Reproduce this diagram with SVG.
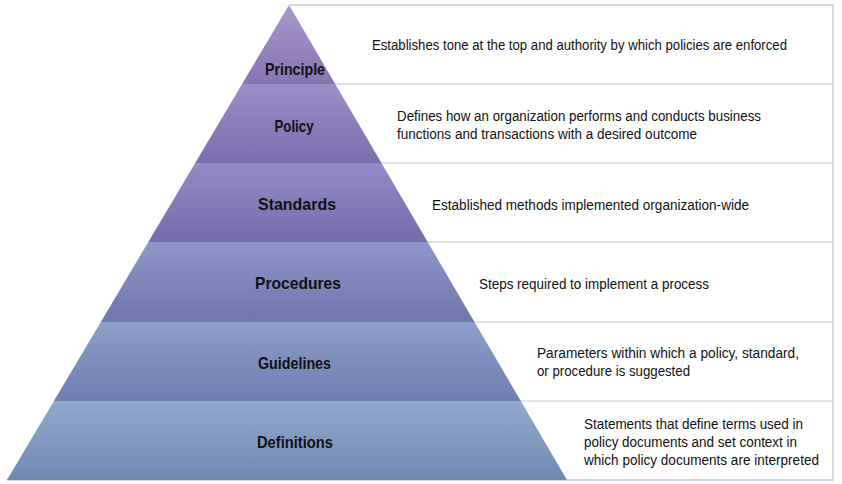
<svg xmlns="http://www.w3.org/2000/svg" width="842" height="484" viewBox="0 0 842 484">
  <style>
    .label { font-family: "Liberation Sans", Arial, sans-serif; font-weight: bold; font-size: 16.5px; fill: #111111; text-anchor: middle; }
    .desc { font-family: "Liberation Sans", Arial, sans-serif; font-size: 14px; fill: #111111; }
    .row { stroke: #dadae2; stroke-width: 1.6; fill: none; }
    .frame { stroke: #c9c9d8; stroke-width: 1.4; fill: none; }
  </style>
  <defs>
    <linearGradient id="gPrinciple" x1="0" y1="0" x2="0" y2="1">
      <stop offset="0" stop-color="#a898cb"/>
      <stop offset="1" stop-color="#8874b2"/>
    </linearGradient>
    <linearGradient id="gPolicy" x1="0" y1="0" x2="0" y2="1">
      <stop offset="0" stop-color="#9c8ec7"/>
      <stop offset="1" stop-color="#7c6dad"/>
    </linearGradient>
    <linearGradient id="gStandards" x1="0" y1="0" x2="0" y2="1">
      <stop offset="0" stop-color="#938cc6"/>
      <stop offset="1" stop-color="#736ca9"/>
    </linearGradient>
    <linearGradient id="gProcedures" x1="0" y1="0" x2="0" y2="1">
      <stop offset="0" stop-color="#8f96c9"/>
      <stop offset="1" stop-color="#6f76ab"/>
    </linearGradient>
    <linearGradient id="gGuidelines" x1="0" y1="0" x2="0" y2="1">
      <stop offset="0" stop-color="#8e9fca"/>
      <stop offset="1" stop-color="#6e7eae"/>
    </linearGradient>
    <linearGradient id="gDefinitions" x1="0" y1="0" x2="0" y2="1">
      <stop offset="0" stop-color="#92a9ca"/>
      <stop offset="1" stop-color="#7089b2"/>
    </linearGradient>
  </defs>

  <rect width="842" height="484" fill="#ffffff"/>

  <!-- table rules to the right of the pyramid -->
  <g id="connectors">
    <path class="frame" d="M289,5 H833 V480 H7"/>
    <line class="row" x1="335" y1="84" x2="833" y2="84"/>
    <line class="row" x1="381" y1="163" x2="833" y2="163"/>
    <line class="row" x1="427" y1="242" x2="833" y2="242"/>
    <line class="row" x1="474" y1="322" x2="833" y2="322"/>
    <line class="row" x1="520" y1="401" x2="833" y2="401"/>
  </g>

  <g id="principle">
    <polygon points="289,5 335.2,84 242.1,84" fill="url(#gPrinciple)"/>
    <text class="label" x="295" y="75" textLength="60" lengthAdjust="spacingAndGlyphs">Principle</text>
    <text class="desc" x="372" y="50" textLength="415" lengthAdjust="spacingAndGlyphs">Establishes tone at the top and authority by which policies are enforced</text>
  </g>

  <g id="policy">
    <polygon points="242.1,84 335.2,84 381.5,163 195.2,163" fill="url(#gPolicy)"/>
    <text class="label" x="294" y="132" textLength="39" lengthAdjust="spacingAndGlyphs">Policy</text>
    <text class="desc" x="397" y="121" textLength="364" lengthAdjust="spacingAndGlyphs">Defines how an organization performs and conducts business</text>
    <text class="desc" x="397" y="139" textLength="300" lengthAdjust="spacingAndGlyphs">functions and transactions with a desired outcome</text>
  </g>

  <g id="standards">
    <polygon points="195.2,163 381.5,163 427.7,242 148.3,242" fill="url(#gStandards)"/>
    <text class="label" x="297" y="210" textLength="78" lengthAdjust="spacingAndGlyphs">Standards</text>
    <text class="desc" x="432" y="210" textLength="317" lengthAdjust="spacingAndGlyphs">Established methods implemented organization-wide</text>
  </g>

  <g id="procedures">
    <polygon points="148.3,242 427.7,242 474.5,322 100.8,322" fill="url(#gProcedures)"/>
    <text class="label" x="298" y="289" textLength="86" lengthAdjust="spacingAndGlyphs">Procedures</text>
    <text class="desc" x="479" y="289" textLength="230" lengthAdjust="spacingAndGlyphs">Steps required to implement a process</text>
  </g>

  <g id="guidelines">
    <polygon points="100.8,322 474.5,322 520.8,401 53.9,401" fill="url(#gGuidelines)"/>
    <text class="label" x="294.5" y="369" textLength="73" lengthAdjust="spacingAndGlyphs">Guidelines</text>
    <text class="desc" x="537" y="358" textLength="262" lengthAdjust="spacingAndGlyphs">Parameters within which a policy, standard,</text>
    <text class="desc" x="537" y="376" textLength="153" lengthAdjust="spacingAndGlyphs">or procedure is suggested</text>
  </g>

  <g id="definitions">
    <polygon points="53.9,401 520.8,401 567,480 7,480" fill="url(#gDefinitions)"/>
    <text class="label" x="295" y="448" textLength="76" lengthAdjust="spacingAndGlyphs">Definitions</text>
    <text class="desc" x="584" y="429" textLength="219" lengthAdjust="spacingAndGlyphs">Statements that define terms used in</text>
    <text class="desc" x="584" y="447" textLength="213" lengthAdjust="spacingAndGlyphs">policy documents and set context in</text>
    <text class="desc" x="584" y="465" textLength="235" lengthAdjust="spacingAndGlyphs">which policy documents are interpreted</text>
  </g>
</svg>
